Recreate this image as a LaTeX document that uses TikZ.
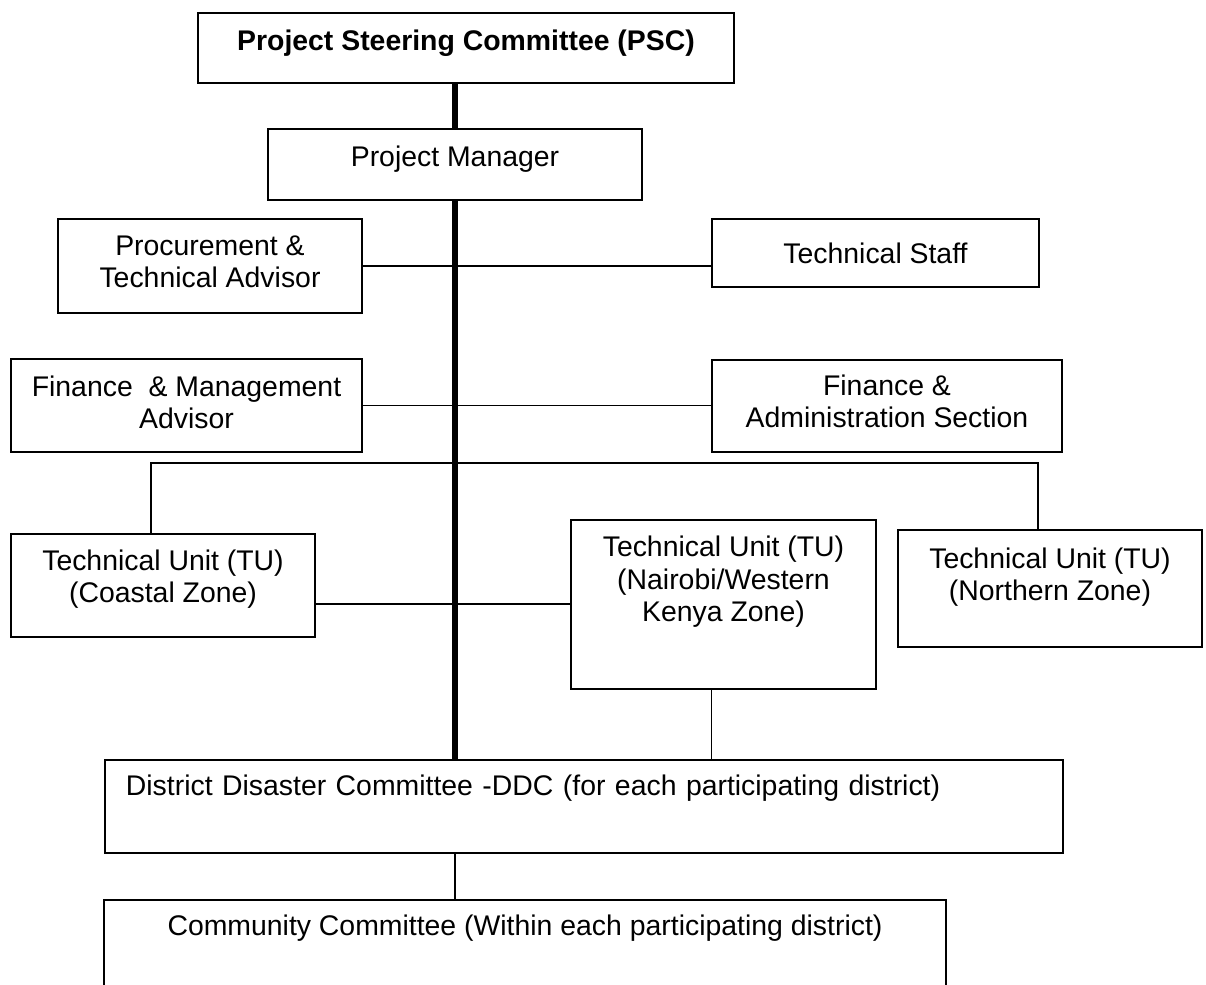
\documentclass[tikz,border=0pt]{standalone}
\usepackage{fontspec}
\setmainfont{Liberation Sans}

\begin{document}
\begin{tikzpicture}[
    x=0.5pt, y=-0.5pt,
    font=\fontsize{14.2pt}{16.4pt}\selectfont,
    unit/.style={draw, line width=0.9pt, align=center, inner sep=0pt, anchor=north},
    link/.style={line width=0.9pt},
    spine/.style={line width=2.6pt}
]
\useasboundingbox (0,0) rectangle (1206,985);

% management
\node[unit, minimum width=268pt, text height=19pt, text depth=16pt] (psc) at (466,12) {\textbf{Project Steering Committee (PSC)}};
\node[unit, minimum width=187pt, text height=19pt, text depth=16.5pt] (pm) at (455,128) {Project Manager};

% advisors and sections
\node[unit, minimum width=152pt, text height=34.5pt, text depth=12.5pt] (proc) at (210,218) {Procurement \&\\Technical Advisor};
\node[unit, minimum width=163.5pt, text height=22.5pt, text depth=11.5pt] (staff) at (875.5,218) {Technical Staff};
\node[unit, minimum width=175.5pt, text height=35pt, text depth=11.5pt] (finm) at (186.5,358) {Finance ~\& Management\\Advisor};
\node[unit, minimum width=175pt, text height=34pt, text depth=12pt] (fina) at (887,359) {Finance \&\\Administration Section};

% technical units
\node[unit, minimum width=152pt, text height=34.5pt, text depth=17pt] (coast) at (163,533) {Technical Unit (TU)\\(Coastal Zone)};
\node[unit, minimum width=152.5pt, text height=51pt, text depth=33.5pt] (nairobi) at (723.5,519) {Technical Unit (TU)\\(Nairobi/Western\\Kenya Zone)};
\node[unit, minimum width=152pt, text height=35.5pt, text depth=23pt] (north) at (1050,529) {Technical Unit (TU)\\(Northern Zone)};

% districts
\node[unit, anchor=north west, text width=458pt, align=left, inner xsep=10.5pt, text height=18pt, text depth=28.5pt] (ddc) at (104,759) {District Disaster Committee -DDC (for each participating district)};
\node[unit, minimum width=421pt, text height=18pt, text depth=33pt] (cc) at (525,899) {Community Committee (Within each participating district)};

% lines of authority
\draw[spine] (pm.north) -- (pm.north |- psc.south);
\draw[spine] (pm.south) -- (pm.south |- ddc.north);

\draw[link] (proc.east) -- (proc.east -| staff.west);
\draw[link] (finm.east) -- (finm.east -| fina.west);

\coordinate (bus) at (455,463);
\draw[link] ([xshift=-6pt]coast.north) |- (bus) -| ([xshift=-6pt]north.north);
\draw[link] ([yshift=-9.25pt]coast.east) -- ([yshift=-9.25pt]coast.east -| nairobi.west);
\draw[link] ([xshift=-6pt]nairobi.south) -- ([xshift=-6pt]nairobi.south |- ddc.north);
\draw[link] (ddc.south -| pm.south) -- (cc.north -| pm.south);
\end{tikzpicture}
\end{document}
